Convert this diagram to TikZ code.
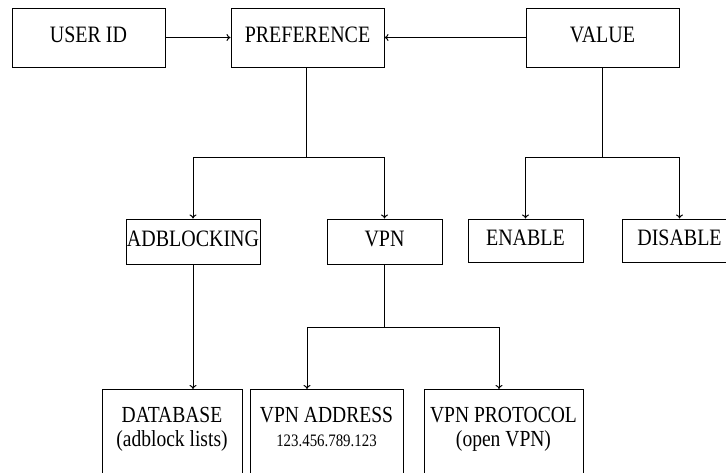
\documentclass[tikz,border=0pt]{standalone}
\usepackage{fontspec}
\setmainfont{Liberation Serif}[FakeStretch=0.85]
\usetikzlibrary{arrows.meta}

\begin{document}
\begin{tikzpicture}[x=1pt,y=-1pt,line width=1pt,>={To[length=4pt,width=7pt]},
	box/.style={draw,inner sep=0pt,text height=16pt,text depth=6pt,font=\fontsize{23.5}{25}\selectfont},
	low/.style={draw,anchor=north,inner xsep=0pt,inner ysep=18pt,align=center,text depth=70pt,font=\fontsize{23}{24}\selectfont}]

	\useasboundingbox (0,0) rectangle (726,472);
	\clip (0,0) rectangle (726,472);

	\node[box,minimum width=153pt,minimum height=59pt] (u) at (88.5, 37.5)   {USER ID};
	\node[box,minimum width=153pt,minimum height=59pt] (p) at (307.5, 37.5)  {PREFERENCE};
	\node[box,minimum width=153pt,minimum height=59pt] (v) at (602.5, 37.5)  {VALUE};

	\node[box,minimum width=134pt,minimum height=45pt] (adb) at (193, 241.5) {ADBLOCKING};
	\node[box,minimum width=115pt,minimum height=45pt] (vpn) at (384.5, 241.5) {VPN};
	\node[box,minimum width=115pt,minimum height=43pt] (en) at (525.5, 240.5) {ENABLE};
	\node[box,minimum width=115pt,minimum height=43pt] (dis) at (679.5, 240.5) {DISABLE};

	\node[low,minimum width=140pt] (db) at (172, 389)     {DATABASE\\(adblock lists)};
	\node[low,minimum width=153pt] (addr) at (326.5, 389) {VPN ADDRESS\\{\fontsize{17.5}{20}\selectfont 123.456.789.123}};
	\node[low,minimum width=159pt] (proto) at (503.5, 389) {VPN PROTOCOL\\(open VPN)};

	\coordinate (pj) at (306, 157);
	\coordinate (vj) at (602.5, 157);
	\coordinate (nj) at (384.5, 327);

	% top row
	\draw[->] (u) -- (p);
	\draw[->] (v) -- (p);

	% branches
	\draw (p.south -| pj) -- (pj);
	\draw[->] (pj) -| (adb.north);
	\draw[->] (pj) -| (vpn.north);

	\draw (v.south) -- (vj);
	\draw[->] (vj) -| (en.north);
	\draw[->] (vj) -| (dis.north);

	\draw[->] (adb.south) -- (adb.south |- db.north);

	\draw (vpn.south) -- (nj);
	\draw[->] (nj) -| ([xshift=-19.5pt]addr.north);
	\draw[->] (nj) -| ([xshift=-4.5pt]proto.north);

\end{tikzpicture}
\end{document}
